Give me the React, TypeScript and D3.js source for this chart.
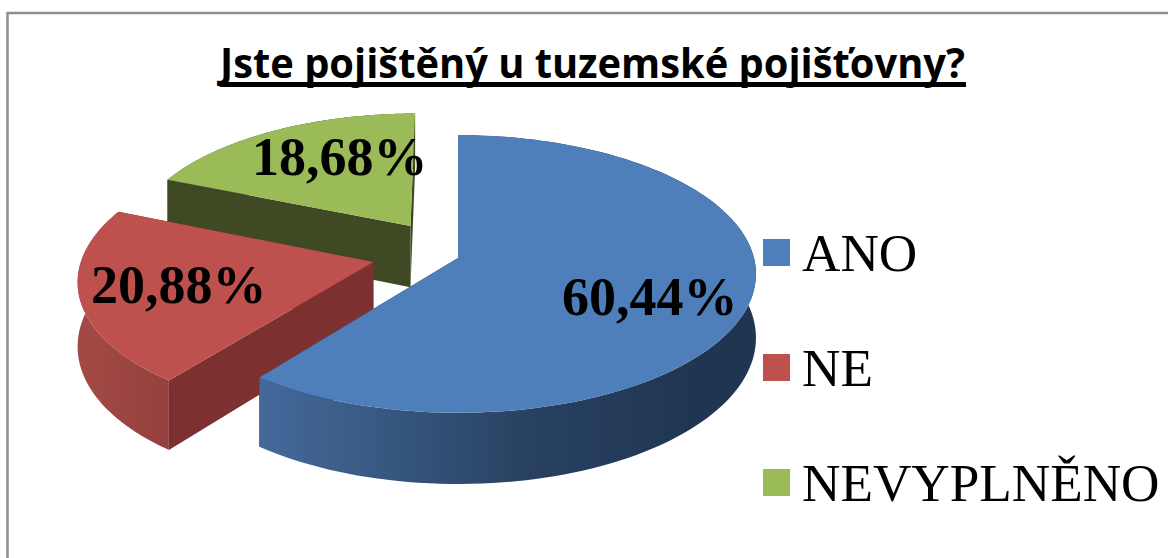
import React from "react";
import * as d3 from "d3";

const categories = ["ANO", "NE", "NEVYPLNĚNO"];
const values = [60.44, 20.88, 18.68];
const titleText = "Jste pojištěný u tuzemské pojišťovny?";

const topColors = ["#4e7fba", "#be504d", "#9bba58"];
const sideColors = ["#1f3552", "#7c3130", "#3f4923"];
const explode = [[0, 0], [-0.285, 0.03], [-0.165, -0.24]];
const radiusScale = [1, 0.985, 0.96];
const labelAt = [[562, 315], [91, 303], [252, 175]];

const W = 1168, H = 558;
const CX = 458, CY = 258, RX = 296, RY = 137, P = 0.115, DEPTH = 63;

type Pt = [number, number];
const project = (u: number, v: number, down = 0): Pt => {
  const s = 1 / (1 - P * v);
  return [CX + RX * u * s, CY + RY * v * s + down * s];
};
const line = d3.line<Pt>().x((d) => d[0]).y((d) => d[1]);

const pieGen = d3.pie<number>().sort(null).value((d) => d);
const slices = pieGen(values);
const legendY = d3.scalePoint<string>().domain(categories).range([252.5, 482.5]);

function rim(a0: number, a1: number, ox: number, oy: number, r: number, down = 0): Pt[] {
  const angles = d3.range(0, 121).map((i) => a0 + ((a1 - a0) * i) / 120);
  return angles.map((a) => project(ox + r * Math.sin(a), oy - r * Math.cos(a), down));
}

export default function App() {
  const order = [2, 1, 0];
  return (
    <svg
      width={W}
      height={H}
      style={{ position: "absolute", left: 0, top: 0, background: "#fff" }}
    >
      <defs>
        <linearGradient id="wall0" gradientUnits="userSpaceOnUse" x1={258} x2={700} y1={0} y2={0}>
          <stop offset="0" stopColor="#44699b" />
          <stop offset="0.3" stopColor="#36577f" />
          <stop offset="0.6" stopColor="#294262" />
          <stop offset="1" stopColor="#1f3552" />
        </linearGradient>
        <linearGradient id="wall1" gradientUnits="userSpaceOnUse" x1={75} x2={170} y1={0} y2={0}>
          <stop offset="0" stopColor="#a44a46" />
          <stop offset="1" stopColor="#94403d" />
        </linearGradient>
        <linearGradient id="wall2" gradientUnits="userSpaceOnUse" x1={160} x2={420} y1={0} y2={0}>
          <stop offset="0" stopColor="#3f4923" />
          <stop offset="1" stopColor="#3f4923" />
        </linearGradient>
      </defs>

      <path d={`M7.5 558V13H${W}`} fill="none" stroke="#8e8e8e" strokeWidth={2.5} />

      <text
        x={220}
        y={78}
        fontFamily="'Open Sans', Lato, sans-serif"
        fontWeight={700}
        fontSize={41}
        textLength={745}
        lengthAdjust="spacingAndGlyphs"
        fill="#000"
      >
        {titleText}
      </text>
      <rect x={220} y={82} width={746} height={5} fill="#000" />

      {order.map((i) => {
        const sl = slices[i];
        const [ox, oy] = explode[i];
        const r = radiusScale[i];
        const top = rim(sl.startAngle, sl.endAngle, ox, oy, r);
        const bottom = rim(sl.startAngle, sl.endAngle, ox, oy, r, DEPTH);
        const apexT = project(ox, oy);
        const apexB = project(ox, oy, DEPTH);
        const wallStart: Pt[] = [apexT, top[0], bottom[0], apexB];
        const wallEnd: Pt[] = [apexT, top[top.length - 1], bottom[bottom.length - 1], apexB];
        const outer = [...top, ...[...bottom].reverse()];
        return (
          <g key={categories[i]}>
            <path d={line(wallStart) + "Z"} fill={sideColors[i]} />
            <path d={line(wallEnd) + "Z"} fill={sideColors[i]} />
            <path d={line(outer) + "Z"} fill={`url(#wall${i})`} />
            <path d={line([apexT, ...top]) + "Z"} fill={topColors[i]} />
          </g>
        );
      })}

      {values.map((v, i) => (
        <text
          key={categories[i]}
          x={labelAt[i][0]}
          y={labelAt[i][1]}
          fontFamily="'Liberation Serif', serif"
          fontWeight={700}
          fontSize={54}
          fill="#000"
        >
          {v.toFixed(2).replace(".", ",")}%
        </text>
      ))}

      {categories.map((c, i) => {
        const y = legendY(c) as number;
        return (
          <g key={c}>
            <rect x={763} y={y - 13.5} width={27} height={27} fill={topColors[i]} />
            <text
              x={802}
              y={y + 18.5}
              fontFamily="'Liberation Serif', serif"
              fontSize={53.2}
              fill="#000"
            >
              {c}
            </text>
          </g>
        );
      })}
    </svg>
  );
}
